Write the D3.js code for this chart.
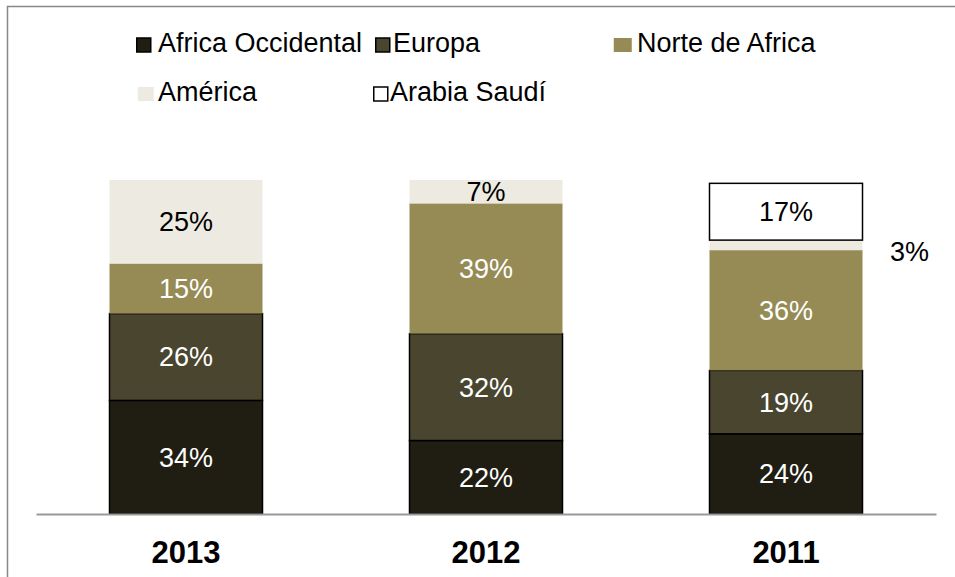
<!DOCTYPE html>
<html>
<head>
<meta charset="utf-8">
<script src="https://cdn.jsdelivr.net/npm/d3@7"></script>
<style>
  body { margin: 0; background: #ffffff; }
  svg { display: block; font-family: "Liberation Sans", Arial, sans-serif; }
</style>
</head>
<body>
<div id="chart"></div>
<script>
// years on the x axis
var years = ['2013', '2012', '2011'];
// series, bottom to top
var seriesNames = ['Africa Occidental', 'Europa', 'Norte de Africa', 'América', 'Arabia Saudí'];
var africaOcc = [34, 22, 24];
var europa = [26, 32, 19];
var norte = [15, 39, 36];
var america = [25, 7, 3];
var arabia = [0, 0, 17];

var colors = ['#201e12', '#4a452f', '#968b55', '#edebe1', '#ffffff'];
var strokes = ['#000000', '#000000', 'none', 'none', '#000000'];
var labelColors = ['#ffffff', '#ffffff', '#ffffff', '#000000', '#000000'];

var width = 955, height = 577;
var svg = d3.select('#chart').append('svg').attr('width', width).attr('height', height);

// outer frame
svg.append('rect')
    .attr('x', 7.5).attr('y', 6.5)
    .attr('width', 970).attr('height', 600)
    .attr('fill', 'none').attr('stroke', '#888888').attr('stroke-width', 1.5);

// build rows for the stack
var table = years.map(function(y, i) {
    return {
        year: y,
        'Africa Occidental': africaOcc[i],
        'Europa': europa[i],
        'Norte de Africa': norte[i],
        'América': america[i],
        'Arabia Saudí': arabia[i]
    };
});
var stacked = d3.stack().keys(seriesNames)(table);

var x = d3.scaleBand().domain(years).range([36, 936]).paddingInner(0.49).paddingOuter(0.245);
var y = d3.scaleLinear().domain([0, 100]).range([514, 180]);

// bars
var groups = svg.selectAll('g.series')
    .data(stacked)
    .enter().append('g')
    .attr('class', 'series');

groups.selectAll('rect')
    .data(function(d) { return d.map(function(p) { return { key: d.key, idx: d.index, p: p }; }); })
    .enter().append('rect')
    .filter(function(d) { return d.p[1] - d.p[0] > 0; })
    .attr('x', function(d) { return x(d.p.data.year); })
    .attr('y', function(d) { return y(d.p[1]); })
    .attr('width', x.bandwidth())
    .attr('height', function(d) { return y(d.p[0]) - y(d.p[1]); })
    .attr('fill', function(d) { return colors[d.idx]; })
    .attr('stroke', function(d) { return strokes[d.idx]; })
    .attr('stroke-width', 1.5);

// labels
groups.selectAll('text')
    .data(function(d) { return d.map(function(p) { return { key: d.key, idx: d.index, p: p }; }); })
    .enter().append('text')
    .filter(function(d) { return d.p[1] - d.p[0] > 0; })
    .attr('x', function(d) {
        var v = d.p[1] - d.p[0];
        if (v < 5) return x(d.p.data.year) + x.bandwidth() + 47;
        return x(d.p.data.year) + x.bandwidth() / 2;
    })
    .attr('y', function(d) {
        var v = d.p[1] - d.p[0];
        var mid = (y(d.p[0]) + y(d.p[1])) / 2;
        if (v < 5) mid += 6;
        return mid;
    })
    .attr('dy', '0.35em')
    .attr('text-anchor', 'middle')
    .attr('font-size', '27px')
    .attr('fill', function(d) { return (d.p[1] - d.p[0]) < 5 ? '#000000' : labelColors[d.idx]; })
    .text(function(d) { return (d.p[1] - d.p[0]) + '%'; });

// x axis
var axis = svg.append('g')
    .attr('transform', 'translate(0,' + 514 + ')')
    .call(d3.axisBottom(x).tickSize(0).tickPadding(27));
axis.select('.domain').attr('stroke', '#999999').attr('stroke-width', 2);
axis.selectAll('text')
    .attr('font-size', '31px')
    .attr('font-weight', 'bold')
    .attr('fill', '#000000')
    .attr('font-family', '"Liberation Sans", Arial, sans-serif');

// legend
var legendPos = [[136, 43], [375, 43], [613, 43], [137, 92], [373, 92]];
var legendTextX = [22, 18, 24, 21, 17];
var legend = svg.selectAll('g.legend')
    .data(seriesNames)
    .enter().append('g')
    .attr('class', 'legend')
    .attr('transform', function(d, i) { return 'translate(' + legendPos[i][0] + ',' + legendPos[i][1] + ')'; });

legend.append('rect')
    .attr('x', 0.75)
    .attr('y', -5)
    .attr('width', function(d, i) { return i === 2 ? 18 : (i === 3 ? 16 : 14); })
    .attr('height', 14)
    .attr('fill', function(d, i) { return colors[i]; })
    .attr('stroke', function(d, i) { return strokes[i] === 'none' ? 'none' : '#000000'; })
    .attr('stroke-width', 1.5);

legend.append('text')
    .attr('x', function(d, i) { return legendTextX[i]; })
    .attr('y', 0)
    .attr('dy', '0.35em')
    .attr('font-size', '27px')
    .attr('fill', '#000000')
    .text(function(d) { return d; });
</script>
</body>
</html>
